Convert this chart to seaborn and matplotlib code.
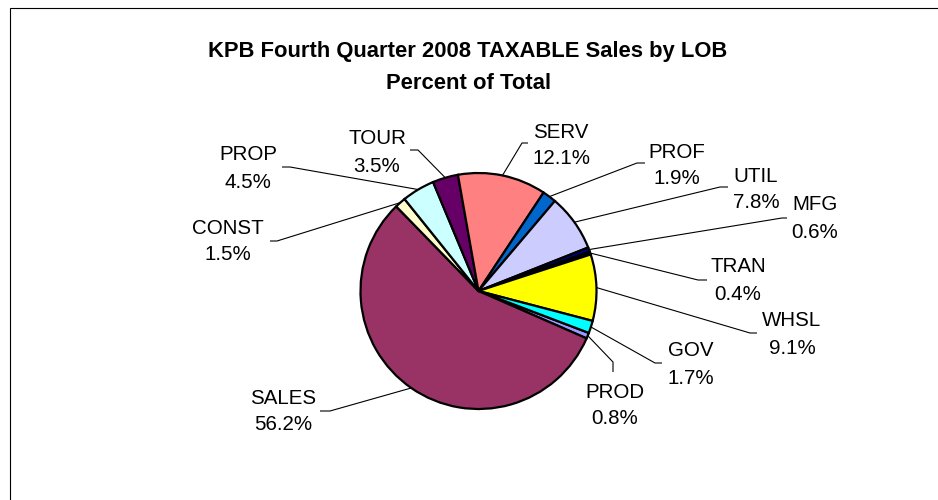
import matplotlib
matplotlib.use('Agg')
import matplotlib.pyplot as plt
import seaborn as sns
import numpy as np
from matplotlib.patches import Rectangle

# ---- data (Excel series order, drawn clockwise) ----
categories = ['PROD', 'SALES', 'CONST', 'PROP', 'TOUR', 'SERV',
              'PROF', 'UTIL', 'MFG', 'TRAN', 'WHSL', 'GOV']
percent = [0.8, 56.2, 1.5, 4.5, 3.5, 12.1, 1.9, 7.8, 0.6, 0.4, 9.1, 1.7]
title_lines = ['KPB Fourth Quarter 2008 TAXABLE Sales by LOB', 'Percent of Total']

# ---- style ----
colors = ['#9999FF', '#993366', '#FFFFCC', '#CCFFFF', '#660066', '#FF8080',
          '#0066CC', '#CCCCFF', '#000080', '#000000', '#FFFF00', '#00FFFF']

# label layout in image pixels: text centre x, line1 centre y, line2 centre y,
# elbow point, end point of the leader line
layout = {
    'SERV':  (561, 131, 157, (522, 143), (528, 143)),
    'PROF':  (677, 150, 177, (637, 163), (645, 163)),
    'UTIL':  (756, 174, 200, (720, 187), (728, 187)),
    'MFG':   (815, 203, 231, (782, 218), (787, 218)),
    'TRAN':  (738, 265, 293, (698, 280), (707, 280)),
    'WHSL':  (792, 318, 346, (750, 333), (757, 333)),
    'GOV':   (691, 348, 376, (655, 363), (662, 363)),
    'PROD':  (615, 390, 416, (613, 362), (613, 372)),
    'SALES': (283, 396, 423, (330, 411), (320, 411)),
    'CONST': (228, 226, 253, (277, 241), (270, 241)),
    'PROP':  (248, 152, 180, (290, 167), (282, 167)),
    'TOUR':  (377, 136, 164, (418, 150), (410, 150)),
}

sns.set_theme(style='white')
plt.rcParams['font.family'] = ['Liberation Sans', 'DejaVu Sans']

W, H = 938, 500
fig = plt.figure(figsize=(W / 100, H / 100), dpi=100)
fig.patch.set_facecolor('white')
ax = fig.add_axes([0, 0, 1, 1])

cx, cy, R = 478.5, H - 291, 118
wedges, _ = ax.pie(percent, colors=colors, startangle=-20.8, counterclock=False,
                   center=(cx, cy), radius=R,
                   wedgeprops=dict(edgecolor='black', linewidth=1.6))
ax.set_xlim(0, W)
ax.set_ylim(0, H)
ax.set_aspect('equal')
ax.axis('off')

# labels with leader lines
for w, name, val in zip(wedges, categories, percent):
    tx, y1, y2, elbow, end = layout[name]
    mid = np.deg2rad((w.theta1 + w.theta2) / 2)
    px, py = cx + R * np.cos(mid), cy + R * np.sin(mid)
    ax.plot([px, elbow[0], end[0]], [py, H - elbow[1], H - end[1]],
            color='black', lw=0.8, solid_capstyle='butt')
    ax.text(tx, H - (y1 + 7.5), name, ha='center', va='baseline',
            fontsize=14.8, color='black')
    ax.text(tx, H - (y2 + 7.5), f'{val:.1f}%', ha='center', va='baseline',
            fontsize=14.8, color='black')

# title
ax.text(468, H - 57, title_lines[0], ha='center', va='baseline',
        fontsize=15.8, fontweight='bold', color='black')
ax.text(468, H - 89, title_lines[1], ha='center', va='baseline',
        fontsize=15.8, fontweight='bold', color='black')

# chart border
ax.add_patch(Rectangle((9.5, -5), W, H - 7.5 + 5, fill=False,
                       edgecolor='black', lw=0.8, clip_on=False))

fig.savefig('out.png', dpi=100, facecolor='white')
